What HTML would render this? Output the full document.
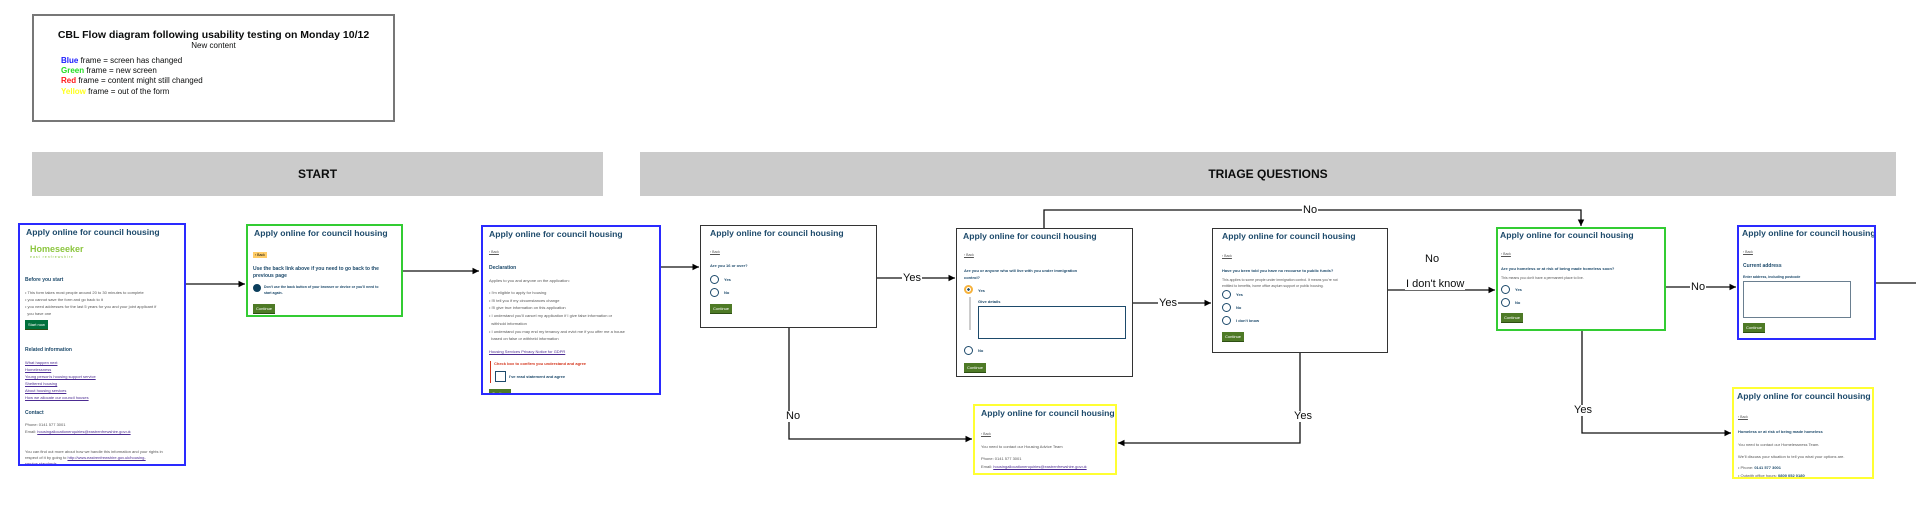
<!DOCTYPE html>
<html><head><meta charset="utf-8">
<style>
*{margin:0;padding:0;box-sizing:border-box}
body{width:1916px;height:516px;background:#fff;position:relative;overflow:hidden;font-family:"Liberation Sans",sans-serif;color:#0b0c0c}
.a{position:absolute}
.f{position:absolute;background:#fff;overflow:hidden}
.f .a{white-space:nowrap}
.ti{font-weight:bold;font-size:8.6px;color:#1d4a6b;left:6px;top:2px}
.s{font-size:4px;color:#555}
.b{font-size:5px;font-weight:bold;color:#1d4a6b}
.bk{font-size:3.5px;color:#555;text-decoration:underline}
.btn{background:#4e7a26;color:#fff;font-size:4px;padding:2px 3px;border-bottom:1px solid #2d4f13}
.lk{font-size:4px;color:#4c2c92;text-decoration:underline}
.r{width:9px;height:9px;border:1.2px solid #1d4a6b;border-radius:50%}
.rl{font-size:4px;font-weight:bold;color:#1d4a6b}
.lab{position:absolute;font-size:11px;background:#fff;line-height:11px;padding:0 1px}
.hd{position:absolute;background:#cbcbcb;font-weight:bold;font-size:12px;display:flex;align-items:center;justify-content:center}
</style></head><body>

<div class="a" style="left:32px;top:14px;width:363px;height:108px;border:2px solid #777"></div>
<div class="a" style="left:32px;top:29px;width:363px;text-align:center;font-weight:bold;font-size:10.5px">CBL Flow diagram following usability testing on Monday 10/12</div>
<div class="a" style="left:32px;top:41px;width:363px;text-align:center;font-size:8px">New content</div>
<div class="a" style="left:61px;top:56px;font-size:8px;line-height:10.2px"><span style="color:#1a1aff;font-weight:bold">Blue</span> frame = screen has changed<br><span style="color:#22dd22;font-weight:bold">Green</span> frame = new screen<br><span style="color:#ff1a1a;font-weight:bold">Red</span> frame = content might still changed<br><span style="color:#ffff22;font-weight:bold">Yellow</span> frame = out of the form</div>

<div class="hd" style="left:32px;top:152px;width:571px;height:44px">START</div>
<div class="hd" style="left:640px;top:152px;width:1256px;height:44px">TRIAGE QUESTIONS</div>

<svg class="a" style="left:0;top:0" width="1916" height="516">
<defs><marker id="m" markerWidth="6" markerHeight="6" refX="5" refY="3" orient="auto"><path d="M0,0.5 L5,3 L0,5.5z" fill="#000"/></marker></defs>
<g stroke="#111" stroke-width="1.3" fill="none">
<path d="M186,284 H245" marker-end="url(#m)"/>
<path d="M403,271 H479" marker-end="url(#m)"/>
<path d="M661,267 H699" marker-end="url(#m)"/>
<path d="M877,278 H955" marker-end="url(#m)"/>
<path d="M789,328 V439 H972" marker-end="url(#m)"/>
<path d="M1044,228 V210 H1581 V226" marker-end="url(#m)"/>
<path d="M1133,303 H1211" marker-end="url(#m)"/>
<path d="M1388,290 H1495" marker-end="url(#m)"/>
<path d="M1300,353 V443 H1118" marker-end="url(#m)"/>
<path d="M1666,287 H1736" marker-end="url(#m)"/>
<path d="M1582,331 V433 H1731" marker-end="url(#m)"/>
<path d="M1876,283 H1916"/>
</g></svg>
<div class="lab" style="left:902px;top:273px">Yes</div>
<div class="lab" style="left:785px;top:411px">No</div>
<div class="lab" style="left:1302px;top:205px">No</div>
<div class="lab" style="left:1158px;top:298px">Yes</div>
<div class="lab" style="left:1424px;top:254px">No</div>
<div class="lab" style="left:1405px;top:279px">I don't know</div>
<div class="lab" style="left:1293px;top:411px">Yes</div>
<div class="lab" style="left:1690px;top:282px">No</div>
<div class="lab" style="left:1573px;top:405px">Yes</div>

<!-- F1 -->
<div class="f" style="left:18px;top:223px;width:168px;height:243px;border:2px solid #2a2aff">
<div class="a ti">Apply online for council housing</div>
<div class="a" style="left:10px;top:19px;font-weight:bold;font-size:9px;color:#8cc63f">Homeseeker</div>
<div class="a" style="left:10px;top:30px;font-size:3.5px;color:#8cc63f;letter-spacing:1px">east renfrewshire</div>
<div class="a b" style="left:5px;top:52px">Before you start</div>
<div class="a s" style="left:5px;top:64px;line-height:7px">• This form takes most people around 20 to 30 minutes to complete<br>• you cannot save the form and go back to it<br>• you need addresses for the last 5 years for you and your joint applicant if<br>&nbsp;&nbsp;you have one</div>
<div class="a btn" style="left:5px;top:95px;background:#00703c">Start now</div>
<div class="a b" style="left:5px;top:122px">Related information</div>
<div class="a lk" style="left:5px;top:134px;line-height:7px">What happen next<br>Homelessness<br>Young person's housing support service<br>Sheltered housing<br>About housing services<br>How we allocate our council houses</div>
<div class="a b" style="left:5px;top:185px">Contact</div>
<div class="a s" style="left:5px;top:196px;line-height:7px">Phone: 0141 577 3001<br>Email: <span class="lk">housingallocationenquiries@eastrenfrewshire.gov.uk</span></div>
<div class="a s" style="left:5px;top:224px;line-height:6px">You can find out more about how we handle this information and your rights in<br>respect of it by going to <span class="lk">http://www.eastrenfrewshire.gov.uk/housing-</span><br><span class="lk">service-standards</span></div>
</div>

<!-- F2 -->
<div class="f" style="left:246px;top:224px;width:157px;height:93px;border:2px solid #33cc33">
<div class="a ti">Apply online for council housing</div>
<div class="a" style="left:5px;top:26px;background:#ffcc66;font-size:3.5px;padding:1px 2px">‹ Back</div>
<div class="a" style="left:5px;top:40px;font-size:5px;font-weight:bold;color:#1d4a6b;line-height:7px">Use the back link above if you need to go back to the<br>previous page</div>
<div class="a" style="left:5px;top:58px;width:8px;height:8px;border-radius:50%;background:#0b3e5c"></div>
<div class="a" style="left:16px;top:58px;font-size:3.5px;font-weight:bold;line-height:6px;color:#1d4a6b">Don't use the back button of your browser or device or you'll need to<br>start again.</div>
<div class="a btn" style="left:5px;top:78px">Continue</div>
</div>

<!-- F3 -->
<div class="f" style="left:481px;top:225px;width:180px;height:170px;border:2px solid #2a2aff">
<div class="a ti">Apply online for council housing</div>
<div class="a bk" style="left:6px;top:23px">‹ Back</div>
<div class="a b" style="left:6px;top:38px">Declaration</div>
<div class="a s" style="left:6px;top:51px">Applies to you and anyone on the application:</div>
<div class="a s" style="left:6px;top:62px;line-height:7.7px">• I'm eligible to apply for housing<br>• I'll tell you if my circumstances change<br>• I'll give true information on this application<br>• I understand you'll cancel my application if I give false information or<br>&nbsp;&nbsp;withhold information<br>• I understand you may end my tenancy and evict me if you offer me a house<br>&nbsp;&nbsp;based on false or withheld information</div>
<div class="a lk" style="left:6px;top:122px">Housing Services Privacy Notice for GDPR</div>
<div class="a" style="left:7px;top:134px;width:1px;height:22px;background:#d4351c"></div>
<div class="a" style="left:11px;top:134px;font-size:4px;font-weight:bold;color:#d4351c">Check box to confirm you understand and agree</div>
<div class="a" style="left:12px;top:144px;width:11px;height:11px;border:1px solid #1d4a6b"></div>
<div class="a rl" style="left:26px;top:147px">I've read statement and agree</div>
<div class="a btn" style="left:6px;top:162px">Continue</div>
</div>

<!-- F4 -->
<div class="f" style="left:700px;top:225px;width:177px;height:103px;border:1.5px solid #333">
<div class="a ti" style="left:9px">Apply online for council housing</div>
<div class="a bk" style="left:9px;top:24px">‹ Back</div>
<div class="a rl" style="left:9px;top:37px">Are you 16 or over?</div>
<div class="a r" style="left:9px;top:49px"></div><div class="a rl" style="left:23px;top:51px">Yes</div>
<div class="a r" style="left:9px;top:62px"></div><div class="a rl" style="left:23px;top:64px">No</div>
<div class="a btn" style="left:9px;top:78px">Continue</div>
</div>

<!-- F5 -->
<div class="f" style="left:956px;top:228px;width:177px;height:149px;border:1.5px solid #333">
<div class="a ti">Apply online for council housing</div>
<div class="a bk" style="left:7px;top:24px">‹ Back</div>
<div class="a rl" style="left:7px;top:38px;line-height:7px">Are you or anyone who will live with you under immigration<br>control?</div>
<div class="a r" style="left:7px;top:56px;border:2.5px solid #f6b23c;background:radial-gradient(#1d4a6b 35%,#fff 40%)"></div><div class="a rl" style="left:21px;top:59px">Yes</div>
<div class="a" style="left:12px;top:68px;width:2px;height:33px;background:#ccc"></div>
<div class="a rl" style="left:21px;top:70px">Give details</div>
<div class="a" style="left:21px;top:77px;width:148px;height:33px;border:1px solid #1d4a6b"></div>
<div class="a r" style="left:7px;top:117px"></div><div class="a rl" style="left:21px;top:119px">No</div>
<div class="a btn" style="left:7px;top:134px">Continue</div>
</div>

<!-- F6 -->
<div class="f" style="left:1212px;top:228px;width:176px;height:125px;border:1.5px solid #333">
<div class="a ti" style="left:9px">Apply online for council housing</div>
<div class="a bk" style="left:9px;top:25px">‹ Back</div>
<div class="a rl" style="left:9px;top:39px">Have you been told you have no recourse to public funds?</div>
<div class="a s" style="left:9px;top:48px;line-height:6px;font-size:3.5px">This applies to some people under immigration control. It means you're not<br>entitled to benefits, home office asylum support or public housing.</div>
<div class="a r" style="left:9px;top:61px"></div><div class="a rl" style="left:23px;top:63px">Yes</div>
<div class="a r" style="left:9px;top:74px"></div><div class="a rl" style="left:23px;top:76px">No</div>
<div class="a r" style="left:9px;top:87px"></div><div class="a rl" style="left:23px;top:89px">I don't know</div>
<div class="a btn" style="left:9px;top:103px">Continue</div>
</div>

<!-- F7 yellow -->
<div class="f" style="left:973px;top:404px;width:144px;height:71px;border:2px solid #ffff33">
<div class="a ti" style="left:6px">Apply online for council housing</div>
<div class="a bk" style="left:6px;top:26px">‹ Back</div>
<div class="a s" style="left:6px;top:38px">You need to contact our Housing Advice Team</div>
<div class="a s" style="left:6px;top:50px">Phone: 0141 577 3001</div>
<div class="a s" style="left:6px;top:58px">Email: <span class="lk">housingallocationenquiries@eastrenfrewshire.gov.uk</span></div>
</div>

<!-- F8 green -->
<div class="f" style="left:1496px;top:227px;width:170px;height:104px;border:2px solid #33cc33">
<div class="a ti" style="left:2px;top:1px">Apply online for council housing</div>
<div class="a bk" style="left:3px;top:23px">‹ Back</div>
<div class="a rl" style="left:3px;top:37px">Are you homeless or at risk of being made homeless soon?</div>
<div class="a s" style="left:3px;top:47px;font-size:3.5px">This means you don't have a permanent place to live.</div>
<div class="a r" style="left:3px;top:56px"></div><div class="a rl" style="left:17px;top:58px">Yes</div>
<div class="a r" style="left:3px;top:69px"></div><div class="a rl" style="left:17px;top:71px">No</div>
<div class="a btn" style="left:3px;top:84px">Continue</div>
</div>

<!-- F9 blue -->
<div class="f" style="left:1737px;top:225px;width:139px;height:115px;border:2px solid #2a2aff">
<div class="a ti" style="left:3px;top:1px">Apply online for council housing</div>
<div class="a bk" style="left:4px;top:23px">‹ Back</div>
<div class="a b" style="left:4px;top:36px">Current address</div>
<div class="a rl" style="left:4px;top:48px;font-size:3.5px">Enter address, including postcode</div>
<div class="a" style="left:4px;top:54px;width:108px;height:37px;border:1px solid #6a7f90"></div>
<div class="a btn" style="left:4px;top:96px">Continue</div>
</div>

<!-- F10 yellow -->
<div class="f" style="left:1732px;top:387px;width:142px;height:92px;border:2px solid #ffff33">
<div class="a ti" style="left:3px;top:2px">Apply online for council housing</div>
<div class="a bk" style="left:4px;top:26px">‹ Back</div>
<div class="a rl" style="left:4px;top:40px">Homeless or at risk of being made homeless</div>
<div class="a s" style="left:4px;top:53px">You need to contact our Homelessness Team.</div>
<div class="a s" style="left:4px;top:65px">We'll discuss your situation to tell you what your options are.</div>
<div class="a s" style="left:4px;top:76px">• Phone: <b style="color:#1d4a6b">0141 577 3001</b></div>
<div class="a s" style="left:4px;top:84px">• Outwith office hours: <b style="color:#1d4a6b">0800 052 0180</b></div>
</div>

</body></html>
